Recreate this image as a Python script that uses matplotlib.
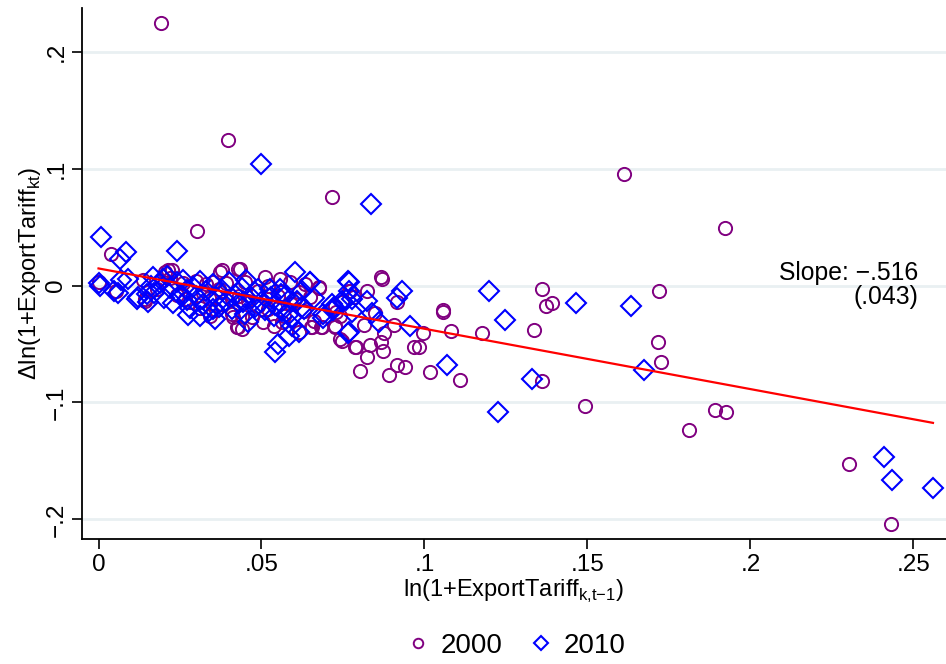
import numpy as np
import matplotlib.pyplot as plt

plt.rcParams['font.family'] = ['Liberation Sans', 'DejaVu Sans']
plt.rcParams['mathtext.fontset'] = 'custom'
plt.rcParams['mathtext.rm'] = 'Liberation Sans'

# 2000 (circles)
x2000 = [0.0192, 0.0398, 0.0303, 0.0038, 0.0715, 0.1613, 0.1923,
         0.1362, 0.1372, 0.1392, 0.1720, 0.1058, 0.1058, 0.0995, 0.1080, 0.1177, 0.1337, 0.1716,
         0.1725, 0.1018, 0.1108, 0.1362, 0.1492, 0.1892, 0.1925, 0.1812, 0.2302, 0.2430, 0.0983,
         0.0868, 0.0870, 0.0675, 0.0823, 0.0747, 0.0770, 0.0729, 0.0740, 0.0651, 0.0683, 0.0724,
         0.0813, 0.0847, 0.0907, 0.0916, 0.0875, 0.0742, 0.0747, 0.0790, 0.0832, 0.0868, 0.0873,
         0.0823, 0.0969, 0.0801, 0.0917, 0.0939, 0.0892,
         0.0435, 0.0511, 0.0557, 0.0588, 0.0634, 0.0773, 0.0783, 0.0614, 0.0650, 0.0675, 0.0521,
         0.0490, 0.0542, 0.0603, 0.0726, 0.0440, 0.0506, 0.0537, 0.0562, 0.0429, 0.0614, 0.0654,
         0.0686, 0.0727, 0.0788,
         0.0214, 0.0378, 0.0429, 0.0352, 0.0450, 0.0410, 0.0342, 0.0413, 0.0424, 0.0440, 0.0142, 0.0265,
         0.0002, 0.0137, 0.0225, 0.0204, 0.0373, 0.0142, 0.0055,
         0.018, 0.022, 0.024, 0.026, 0.028, 0.030, 0.031, 0.032, 0.033, 0.034, 0.036, 0.037, 0.038,
         0.039, 0.041, 0.043, 0.046, 0.047, 0.049, 0.052, 0.055, 0.057, 0.059, 0.063, 0.066]
y2000 = [0.2245, 0.1243, 0.0463, 0.0272, 0.0754, 0.0951, 0.0488,
         -0.0028, -0.0171, -0.0148, -0.0043, -0.0206, -0.0223, -0.0405, -0.0386, -0.0409, -0.0380, -0.0486,
         -0.0657, -0.0737, -0.0808, -0.0814, -0.1034, -0.1063, -0.1085, -0.1237, -0.1523, -0.2037, -0.0528,
         0.0071, 0.0054, -0.0023, -0.0043, -0.0143, -0.0043, -0.0229, -0.0257, -0.0357, -0.0351, -0.0349,
         -0.0337, -0.0231, -0.0334, -0.0143, -0.0409, -0.0457, -0.0471, -0.0523, -0.0506, -0.0486, -0.0563,
         -0.0614, -0.0529, -0.0728, -0.0680, -0.0694, -0.0763,
         0.0143, 0.0071, 0.0057, 0.0028, 0.0014, -0.0043, -0.0100, -0.0057, -0.0100, -0.0014, 0.0000,
         -0.0171, -0.0186, -0.0114, -0.0171, -0.0257, -0.0314, -0.0343, -0.0314, -0.0357, -0.0400, -0.0357,
         -0.0357, -0.0357, -0.0523,
         0.0129, 0.0129, 0.0143, 0.0028, 0.0028, -0.0114, -0.0257, -0.0271, -0.0357, -0.0371, -0.0114, -0.0114,
         0.0028, 0.0043, 0.0129, 0.0114, 0.0114, -0.0129, -0.0043,
         -0.003, 0.006, -0.008, 0.002, -0.014, 0.004, -0.019, -0.006, 0.001, -0.011, -0.021, -0.003, -0.016,
         0.002, -0.024, -0.009, -0.013, -0.027, -0.005, -0.020, -0.009, -0.026, -0.016, -0.022, -0.030]

# 2010 (diamonds)
x2010 = [0.0497, 0.0835, 0.0008, 0.0085, 0.0066, 0.0242,
         0.1198, 0.1246, 0.1465, 0.1635, 0.1068, 0.1329, 0.1225, 0.1672, 0.2409, 0.2435, 0.2560,
         0.0650, 0.0765, 0.0930, 0.0916, 0.0770, 0.0823, 0.0760, 0.0721, 0.0690, 0.0777, 0.0839,
         0.0860, 0.0764, 0.0957, 0.0614,
         0.0603, 0.0452, 0.0650, 0.0767, 0.0557, 0.0573, 0.0527, 0.0480, 0.0624, 0.0747, 0.0777,
         0.0716, 0.0624, 0.0444, 0.0460, 0.0537, 0.0562, 0.0593, 0.0593, 0.0583, 0.0552, 0.0542, 0.0767,
         0.0000, 0.0004, 0.0046, 0.0060, 0.0070, 0.0091, 0.0117, 0.0148, 0.0168, 0.0199, 0.0275,
         0.0310, 0.0357, 0.0152, 0.0122,
         0.017, 0.019, 0.020, 0.021, 0.022, 0.023, 0.024, 0.025, 0.026, 0.027, 0.028, 0.029, 0.030,
         0.031, 0.032, 0.033, 0.034, 0.035, 0.036, 0.037, 0.038, 0.039, 0.040, 0.041, 0.042, 0.043,
         0.044, 0.045, 0.047, 0.048, 0.049, 0.050, 0.051, 0.053, 0.054, 0.056, 0.058, 0.061, 0.063,
         0.066, 0.069, 0.072, 0.016, 0.027, 0.035]
y2010 = [0.1037, 0.0694, 0.0411, 0.0283, 0.0231, 0.0291,
         -0.0051, -0.0294, -0.0146, -0.0177, -0.0680, -0.0797, -0.1086, -0.0726, -0.1471, -0.1660, -0.1734,
         0.0028, 0.0037, -0.0043, -0.0105, -0.0051, -0.0129, -0.0120, -0.0186, -0.0243, -0.0229, -0.0237,
         -0.0308, -0.0406, -0.0349, -0.0400,
         0.0114, 0.0043, 0.0034, 0.0028, -0.0028, -0.0086, -0.0028, -0.0057, -0.0043, -0.0129, -0.0114,
         -0.0157, -0.0186, -0.0143, -0.0314, -0.0257, -0.0214, -0.0271, -0.0343, -0.0428, -0.0500, -0.0571, -0.0394,
         0.0020, 0.0000, -0.0043, -0.0066, 0.0043, 0.0057, -0.0114, -0.0071, 0.0071, 0.0057, -0.0251,
         -0.0257, -0.0286, -0.0143, -0.0100,
         -0.006, 0.002, -0.011, 0.008, -0.002, -0.015, 0.003, -0.008, 0.005, -0.012, -0.019, -0.001, -0.009,
         0.004, -0.016, -0.005, -0.022, 0.001, -0.010, -0.018, -0.004, -0.013, 0.003, -0.020, -0.008, -0.015,
         -0.002, -0.024, -0.011, -0.018, -0.003, -0.014, -0.021, -0.010, -0.017, -0.007, -0.025, -0.013, -0.020,
         -0.011, -0.028, -0.021, 0.000, -0.004, -0.020]

slope = -0.516
intercept = 0.0146
xticks = [0, 0.05, 0.1, 0.15, 0.2, 0.25]
xticklabels = ['0', '.05', '.1', '.15', '.2', '.25']
yticks = [-0.2, -0.1, 0, 0.1, 0.2]
yticklabels = ['\u2212.2', '\u2212.1', '0', '.1', '.2']

fig = plt.figure(figsize=(9.46, 6.64), dpi=100)
ax = fig.add_axes([0.0867, 0.1883, 0.9133, 0.7997])

ax.plot(x2000, y2000, 'o', ms=9.5, mfc='none', mec='#800080', mew=1.4, label='2000', zorder=3)
ax.plot(x2010, y2010, 'D', ms=9.8, mfc='none', mec='#0000ff', mew=1.5, label='2010', zorder=4)

xall = np.array(x2000 + x2010)
xl = np.array([xall.min(), xall.max()])
ax.plot(xl, intercept + slope * xl, color='red', lw=1.6, zorder=5)

ax.text(0.2514, 0.0002, 'Slope: \u2212.516\n(.043)', ha='right', va='center',
        fontsize=17.8, linespacing=0.98)

ax.set_xlim(-0.00506, 0.26)
ax.set_ylim(-0.2168, 0.2374)
ax.set_xticks(xticks)
ax.set_xticklabels(xticklabels)
ax.set_yticks(yticks)
ax.set_yticklabels(yticklabels, rotation=90, va='center')
ax.tick_params(axis='both', labelsize=17.5, length=7, width=1.2, direction='out')
ax.tick_params(axis='x', pad=4)
ax.grid(axis='y', color='#e9f0f2', lw=2)
ax.set_axisbelow(True)
for s in ['top', 'right']:
    ax.spines[s].set_visible(False)
for s in ['left', 'bottom']:
    ax.spines[s].set_linewidth(1.3)

ax.set_xlabel(r'ln(1+ExportTariff$_{\mathregular{k{,}t{-}1}}$)', fontsize=17, labelpad=1)
ax.set_ylabel(r'$\Delta$ln(1+ExportTariff$_{\mathregular{kt}}$)', fontsize=17, labelpad=2)

fig.legend(loc='center', bbox_to_anchor=(0.544, 0.027), ncol=2, frameon=False,
           fontsize=20, markerscale=0.72, handletextpad=0.3, columnspacing=0.9, handlelength=1.0)

fig.savefig('out.png', dpi=100)
